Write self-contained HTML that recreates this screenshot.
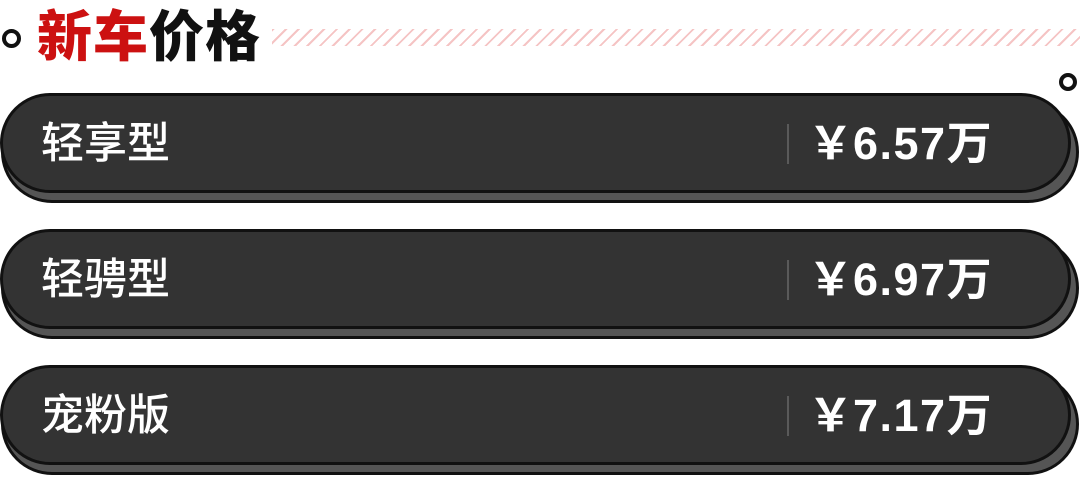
<!DOCTYPE html>
<html><head><meta charset="utf-8"><style>
body{margin:0;width:1080px;height:489px;background:#fff;position:relative;overflow:hidden;font-family:"Liberation Sans","Noto Sans CJK SC",sans-serif}
.ring{position:absolute;border:4px solid #111;border-radius:50%;box-sizing:border-box;background:#fff}
.title{position:absolute;left:37px;top:2px;font-size:55px;font-weight:900;line-height:70px;letter-spacing:1px}
.stripes{position:absolute;left:272px;top:29px;width:808px;height:17px;background:repeating-linear-gradient(135deg,#f5c4c4 0 2px,#fff 2px 9px)}
.sh{position:absolute;left:1px;width:1078px;height:102px;background:#555;border:3px solid #111;border-radius:52px;box-sizing:border-box}
.bar{position:absolute;left:0;width:1071px;height:100px;background:#333;border:3px solid #111;border-radius:50px;box-sizing:border-box}
.lab{position:absolute;left:38px;top:23px;font-size:43px;color:#fff;line-height:50px;font-weight:500}
.div{position:absolute;left:784px;top:28px;width:2px;height:40px;background:#5a5a5a}
.pr{position:absolute;left:805px;top:22px;font-size:45px;font-weight:bold;color:#fff;line-height:52px;letter-spacing:1.5px;white-space:nowrap}
.pr span{display:inline-block;width:45px;letter-spacing:0}
</style></head><body>
<div class="ring" style="left:2px;top:29px;width:19px;height:19px"></div>
<div class="stripes"></div>
<div class="title"><span style="color:#cc1111">新车</span><span style="color:#111">价格</span></div>
<div class="ring" style="left:1059px;top:73px;width:18px;height:18px"></div>

<div class="sh" style="top:101px"></div>
<div class="bar" style="top:93px"><div class="lab">轻享型</div><div class="div"></div><div class="pr"><span>￥</span>6.57万</div></div>

<div class="sh" style="top:237px"></div>
<div class="bar" style="top:229px"><div class="lab">轻骋型</div><div class="div"></div><div class="pr"><span>￥</span>6.97万</div></div>

<div class="sh" style="top:373px"></div>
<div class="bar" style="top:365px"><div class="lab">宠粉版</div><div class="div"></div><div class="pr"><span>￥</span>7.17万</div></div>
</body></html>
